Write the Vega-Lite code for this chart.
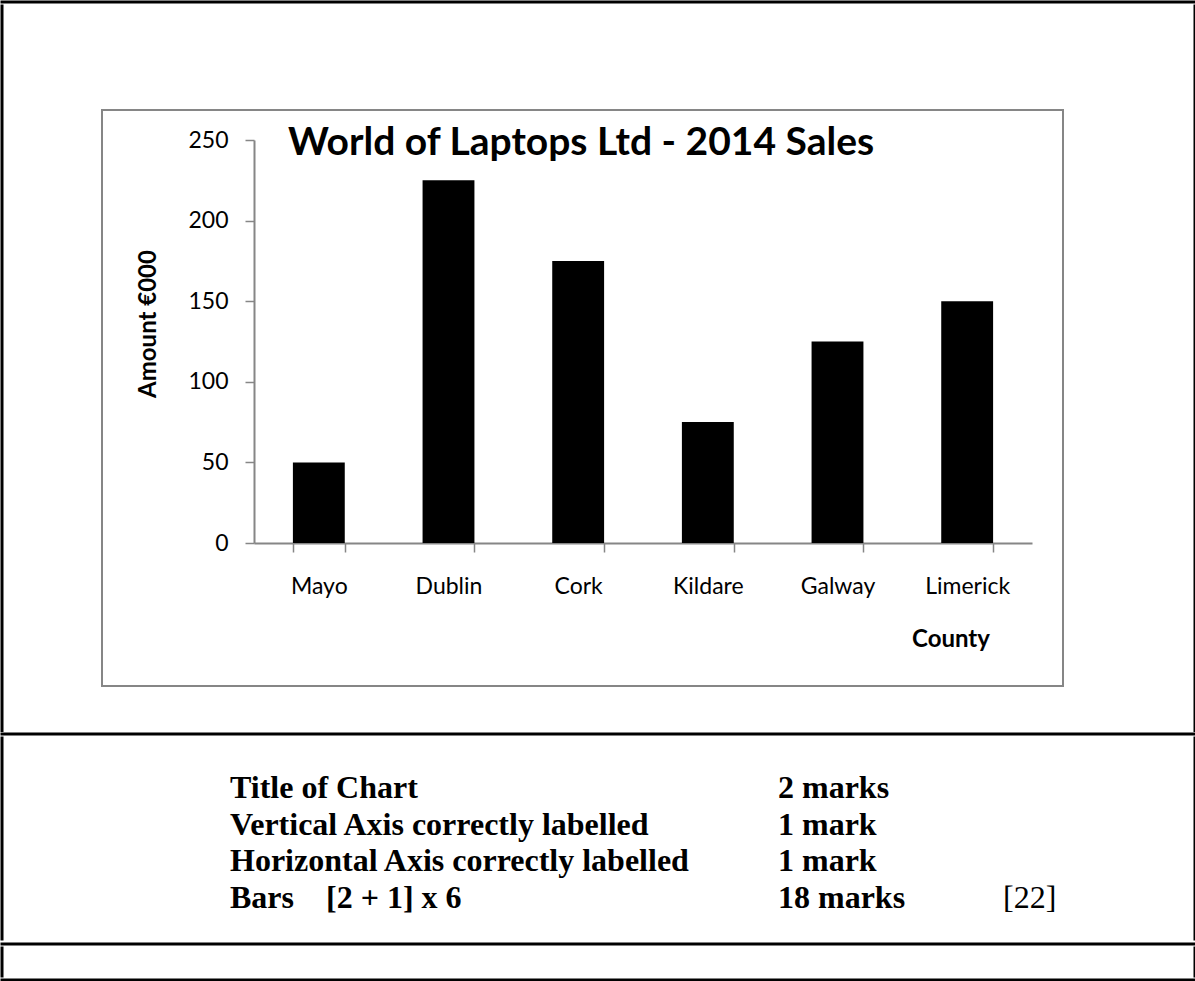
{
  "$schema": "https://vega.github.io/schema/vega-lite/v6.json",
  "background": "white",
  "padding": 0,
  "spacing": 0,
  "vconcat": [
    {"width": 1192, "height": 0.01, "view": {"stroke": "black", "strokeWidth": 3}, "data": {"values": []}, "mark": "point", "encoding": {}},
    {
      "spacing": 97,
      "hconcat": [
        {"width": 0.01, "height": 724.5, "view": {"stroke": "black", "strokeWidth": 3}, "data": {"values": []}, "mark": "point", "encoding": {}},
        {
          "spacing": 129,
          "hconcat": [
            {
              "spacing": 102,
              "vconcat": [
                {"width": 1, "height": 1, "view": {"stroke": "white", "strokeWidth": 0}, "data": {"values": []}, "mark": "point", "encoding": {}},
                {
                  "width": 961,
                  "height": 576,
                  "view": {"stroke": "#868686", "strokeWidth": 2},
                  "title": {"text": "World of Laptops Ltd - 2014 Sales", "anchor": "start", "frame": "group", "dx": 186, "offset": -84, "baseline": "alphabetic", "font": "Lato", "fontSize": 39, "fontWeight": "bold", "color": "black"},
                  "data": {"values": [
                    {"County": "Mayo", "Amount": 50},
                    {"County": "Dublin", "Amount": 225},
                    {"County": "Cork", "Amount": 175},
                    {"County": "Kildare", "Amount": 75},
                    {"County": "Galway", "Amount": 125},
                    {"County": "Limerick", "Amount": 150}
                  ]},
                  "mark": {"type": "bar", "color": "black"},
                  "encoding": {
                    "x": {
                      "field": "County", "type": "nominal", "sort": null,
                      "scale": {"range": [152, 930], "paddingInner": 0.6, "paddingOuter": 0.3},
                      "axis": {
                        "orient": "bottom", "offset": -143, "title": "County",
                        "titleX": 848.5, "titleY": 103, "titleAlign": "center", "titleBaseline": "alphabetic",
                        "titleFont": "Lato", "titleFontSize": 24, "titleFontWeight": "bold", "titleColor": "black",
                        "labelAngle": 0, "labelFont": "Lato", "labelFontSize": 23, "labelColor": "black",
                        "labelBaseline": "alphabetic", "labelPadding": 41,
                        "tickBand": "extent", "tickSize": 9, "tickWidth": 1.5, "tickColor": "#868686",
                        "domainColor": "#868686", "domainWidth": 2, "grid": false
                      }
                    },
                    "y": {
                      "field": "Amount", "type": "quantitative",
                      "scale": {"domain": [0, 250], "range": [433, 30], "nice": false},
                      "axis": {
                        "orient": "left", "offset": -152, "title": "Amount €000",
                        "values": [0, 50, 100, 150, 200, 250],
                        "titleX": -99, "titleY": 213.5, "titleAngle": -90, "titleAlign": "center", "titleBaseline": "alphabetic",
                        "titleFont": "Lato", "titleFontSize": 24, "titleFontWeight": "bold", "titleColor": "black",
                        "labelFont": "Lato", "labelFontSize": 23, "labelColor": "black", "labelBaseline": "middle",
                        "labelPadding": 17, "tickSize": 9, "tickWidth": 1.5, "tickColor": "#868686",
                        "domainColor": "#868686", "domainWidth": 2, "grid": false
                      }
                    }
                  }
                }
              ]
            },
            {"width": 0.01, "height": 724.5, "view": {"stroke": "black", "strokeWidth": 3}, "data": {"values": []}, "mark": "point", "encoding": {}}
          ]
        }
      ]
    },
    {"width": 1192, "height": 0.01, "view": {"stroke": "black", "strokeWidth": 3}, "data": {"values": []}, "mark": "point", "encoding": {}},
    {
      "spacing": 0,
      "hconcat": [
        {"width": 0.01, "height": 201, "view": {"stroke": "black", "strokeWidth": 3}, "data": {"values": []}, "mark": "point", "encoding": {}},
        {
          "width": 1189,
          "height": 203.5,
          "view": {"stroke": "white", "strokeWidth": 0},
          "data": {"values": [
            {"row": 1, "col": 0, "text": "Title of Chart"},
            {"row": 1, "col": 1, "text": "2 marks"},
            {"row": 2, "col": 0, "text": "Vertical Axis correctly labelled"},
            {"row": 2, "col": 1, "text": "1 mark"},
            {"row": 3, "col": 0, "text": "Horizontal Axis correctly labelled"},
            {"row": 3, "col": 1, "text": "1 mark"},
            {"row": 4, "col": 0, "text": "Bars\u00a0\u00a0\u00a0\u00a0[2 + 1] x 6"},
            {"row": 4, "col": 1, "text": "18 marks"},
            {"row": 4, "col": 2, "text": "[22]"}
          ]},
          "encoding": {
            "x": {"field": "col", "type": "quantitative", "scale": {"domain": [0, 1, 2], "range": [226, 774, 999]}, "axis": null},
            "y": {"field": "row", "type": "ordinal", "scale": {"type": "point", "range": [60, 170], "padding": 0}, "axis": null},
            "text": {"field": "text"}
          },
          "layer": [
            {
              "transform": [{"filter": "datum.col < 2"}],
              "mark": {"type": "text", "align": "left", "baseline": "alphabetic", "font": "Liberation Serif", "fontSize": 32, "fontWeight": "bold", "color": "black"}
            },
            {
              "transform": [{"filter": "datum.col == 2"}],
              "mark": {"type": "text", "align": "left", "baseline": "alphabetic", "font": "Liberation Serif", "fontSize": 32, "fontWeight": "normal", "color": "black"}
            }
          ]
        },
        {"width": 0.01, "height": 201, "view": {"stroke": "black", "strokeWidth": 3}, "data": {"values": []}, "mark": "point", "encoding": {}}
      ]
    },
    {"width": 1192, "height": 0.01, "view": {"stroke": "black", "strokeWidth": 3}, "data": {"values": []}, "mark": "point", "encoding": {}},
    {
      "spacing": 1189,
      "hconcat": [
        {"width": 0.01, "height": 28, "view": {"stroke": "black", "strokeWidth": 3}, "data": {"values": []}, "mark": "point", "encoding": {}},
        {"width": 0.01, "height": 28, "view": {"stroke": "black", "strokeWidth": 3}, "data": {"values": []}, "mark": "point", "encoding": {}}
      ]
    },
    {"width": 1192, "height": 0.01, "view": {"stroke": "black", "strokeWidth": 3}, "data": {"values": []}, "mark": "point", "encoding": {}}
  ]
}
